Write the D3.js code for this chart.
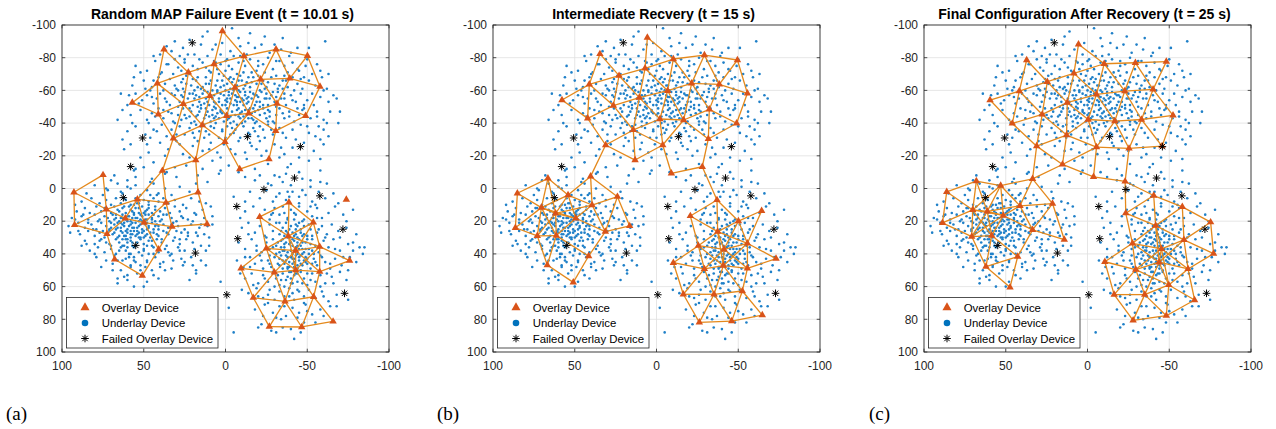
<!DOCTYPE html>
<html>
<head>
<meta charset="utf-8">
<script src="https://cdn.jsdelivr.net/npm/d3@7"></script>
<style>
  body { margin: 0; background: #fff; }
  svg { display: block; font-family: "Liberation Sans", Arial, Helvetica, sans-serif; }
</style>
</head>
<body>
<svg id="fig" width="1276" height="429"></svg>
<script>
// ---- chart text ----
const titles = [
  "Random MAP Failure Event (t = 10.01 s)",
  "Intermediate Recvery (t = 15 s)",
  "Final Configuration After Recovery (t = 25 s)"
];
const panelTags = ["(a)", "(b)", "(c)"];
const xTicks = [100, 50, 0, -50, -100];
const yTicks = [-100, -80, -60, -40, -20, 0, 20, 40, 60, 80, 100];
const legendLabels = ["Overlay Device", "Underlay Device", "Failed Overlay Device"];

// radio range used to link overlay devices
const linkRange = 23.5;

// ---- failed overlay devices (same in every snapshot) ----
const failedDevices = [
  [20.3,-89.1],[50.7,-30.9],[58,-13.4],[-13.4,-31.7],[-45.8,-25.6],
  [62.5,5.6],[54.9,34.8],[18.4,39.5],
  [-42.2,-6.4],[-23.5,0.6],[-6.9,11],[-57.7,4.5],[-71.8,24.9],[-7.5,30.7],[-0.8,65],[-72.8,64.1]
];

// ---- overlay devices, t = 10.01 s ----
const overlayFailure = [
  [1.9,-96.3],[37.6,-85.1],[-11.3,-81.0],[-30.9,-85.1],[-50.1,-81.2],[7.0,-76.1],[22.7,-71.0],
  [41.7,-64.3],[-21.5,-66.8],[-39.3,-67.4],[-57.8,-62.3],[-5.8,-61.7],[57.0,-52.5],[9.5,-56.6],
  [25.8,-51.7],[-31.5,-51.9],[41.1,-45.4],[-0.7,-44.5],[-14.2,-46.0],[-49.0,-44.5],[14.2,-38.8],
  [-30.7,-35.2],[31.9,-30.7],[0.3,-28.6],[18.2,-17.4],[-26.6,-18.0],[-8.7,-11.9],[38.6,-10.9],
  [74.9,-8.3],[92.7,2.3],[16.8,2.3],[53.9,6.6],[36.4,8.7],[72.9,12.7],[92.3,22.3],[61.3,18.3],
  [49.8,20.9],[11.3,21.7],[32.7,23.3],[72.5,27.8],[40.9,37.2],[67.8,43.3],[50.9,53.3],
  [-38.8,8.5],[-73.9,6.8],[-20.9,17.4],[-53.7,20.7],[-38.4,29.1],[-25.0,36.6],[-42.9,38.0],
  [-57.6,35.6],[-9.5,48.8],[-75.9,44.1],[-29.9,51.3],[-42.9,49.9],[-57.6,50.9],[-17.0,66.8],
  [-36.4,69.0],[-53.9,66.2],[-26.8,84.5],[-46.6,84.7],[-65.8,81.3]
];

// ---- overlay devices, t = 15 s ----
const overlayIntermediate = [
  [5.6,-92.3],[34.6,-82.3],[-10.3,-79.2],[-29.3,-81.6],[-49.5,-78.6],[7.0,-73.5],[22.9,-69.0],
  [41.1,-63.7],[-21.5,-64.3],[-38.4,-63.7],[-55.6,-58.2],[-6.8,-59.8],[57.8,-54.1],[10.5,-55.6],
  [26.4,-50.7],[-32.3,-48.4],[42.1,-42.9],[-2.1,-42.5],[-16.6,-41.9],[-49.0,-39.9],[14.2,-35.8],
  [-31.7,-30.3],[31.1,-26.6],[-3.8,-26.6],[13.1,-17.4],[-28.0,-13.3],[-9.1,-9.3],[40.3,-7.4],
  [66.4,-6.2],[85.1,2.9],[54.1,4.0],[23.9,5.0],[70.4,11.7],[39.4,10.1],[61.7,15.2],[86.3,24.0],
  [16.4,22.9],[72.9,29.0],[61.3,28.8],[31.3,26.4],[49.4,18.2],[41.5,41.3],[66.8,46.8],[50.9,57.4],
  [-37.0,7.0],[-20.7,16.8],[-64.3,13.6],[-50.1,19.9],[-37.4,26.4],[-25.6,35.0],[-41.3,37.2],
  [-55.6,33.5],[-73.1,42.9],[-10.3,45.4],[-29.3,49.2],[-40.9,47.2],[-55.6,48.8],[-16.4,64.7],
  [-35.2,64.7],[-52.5,62.7],[-64.7,77.4],[-26.2,81.9],[-46.0,81.1]
];

// ---- overlay devices, t = 25 s ----
const overlayFinal = [
  [5.5,-88.2],[37.2,-78.6],[-10.2,-76.3],[-29.3,-76.9],[-48.2,-77.6],[8.3,-70.4],[24.6,-65.3],
  [41.7,-59.6],[-5.5,-57.6],[-22.8,-59.6],[-40.1,-60.6],[59.6,-54.1],[12.4,-52.5],[27.7,-45.3],
  [-0.4,-42.2],[-16.7,-41.2],[-33.0,-42.2],[-52.3,-44.7],[46.0,-39.8],[12.8,-32.7],[31.1,-25.9],
  [-5.5,-25.3],[-25.4,-24.5],[-45.6,-25.9],[15.3,-14.7],[-3.7,-7.1],[-23.0,-4.3],[33.6,-5.9],
  [53.1,-1.8],[68.0,-4.5],[86.1,2.0],[70.2,13.1],[88.7,21.0],[61.3,14.0],[41.3,10.6],[21.4,9.2],
  [51.5,16.5],[70.8,29.4],[58.6,28.8],[33.6,25.3],[14.2,31.2],[42.7,41.6],[62.1,47.8],[47.4,60.4],
  [-40.5,4.3],[-58.0,11.2],[-23.4,15.1],[-41.7,22.7],[-75.3,20.6],[-59.0,31.4],[-27.5,33.5],
  [-45.2,36.9],[-77.1,39.8],[-10.6,44.8],[-43.8,45.1],[-61.5,49.2],[-29.5,49.6],[-49.7,59.0],
  [-16.3,64.9],[-35.0,64.9],[-65.5,68.2],[-27.9,80.6],[-48.2,77.8]
];

// ---- underlay devices (x, y pairs) ----
const underlayNorth = [
  -4,-98, 14,-93, -61,-90, -8,-92, 22,-91, -15,-95,
  36,-87, 33,-84, 26,-86, 15,-88, 8,-85, 2,-89, -3,-84, -9,-87, -18,-86, -22,-88, -27,-83, -34,-85, -40,-83, -44,-86, -13,-82, 19,-82, 28,-81, 11,-81, -5,-81, 40,-82, -51,-86, -30,-88,
  43,-78, 36,-76, 31,-79, 25,-77, 20,-75, 16,-79, 12,-74, 7,-78, 3,-76, -1,-79, -4,-73, -8,-77, -12,-75, -15,-79, -19,-72, -23,-76, -26,-80, -29,-73, -33,-78, -36,-75, -41,-77, -45,-72, -49,-75, -53,-70, 48,-72, 39,-71, 27,-72, 22,-70, 9,-71, 0,-72, -7,-70, -16,-71, -24,-71, -38,-71, 29,-74, 14,-77, -2,-75, -11,-78, -20,-78, 5,-73, 55,-75, -58,-72,
  50,-66, 45,-62, 41,-68, 37,-64, 34,-67, 30,-61, 27,-65, 24,-69, 21,-63, 18,-66, 15,-61, 12,-68, 10,-64, 8,-60, 5,-66, 3,-62, 1,-69, -1,-64, -3,-61, -5,-67, -7,-63, -9,-69, -11,-61, -13,-65, -15,-62, -17,-68, -19,-64, -21,-60, -23,-66, -25,-62, -28,-68, -30,-64, -32,-61, -35,-66, -38,-62, -41,-68, -44,-64, -47,-61, -51,-66, -55,-63, -59,-68, 57,-63, 32,-70, 17,-62, 6,-63, -4,-65, -10,-66, -16,-65, -26,-65, -31,-69, 13,-60, -2,-67, -8,-60, -20,-69, -36,-69, 26,-61, 44,-66, -46,-67, -62,-61, 20,-67, -12,-63,
  55,-58, 51,-54, 48,-57, 44,-52, 40,-58, 37,-55, 34,-51, 31,-57, 28,-53, 25,-59, 23,-55, 20,-51, 18,-57, 16,-53, 14,-58, 12,-55, 10,-51, 9,-57, 7,-53, 5,-59, 4,-55, 2,-51, 1,-57, -1,-53, -2,-59, -3,-55, -5,-51, -6,-57, -7,-53, -9,-59, -10,-55, -11,-51, -12,-57, -14,-53, -15,-59, -16,-55, -18,-51, -19,-57, -21,-53, -22,-59, -24,-55, -26,-51, -28,-57, -30,-53, -32,-59, -34,-55, -37,-51, -40,-57, -43,-53, -46,-58, -50,-54, -54,-51, -58,-56, -63,-53, 60,-51, 46,-60, 38,-60, 29,-60, 22,-58, 17,-50, 11,-59, 6,-52, 3,-58, 0,-54, -4,-58, -8,-56, -13,-55, -17,-58, -20,-56, -23,-51, -27,-55, -31,-56, -36,-58, -3,-52, -9,-53, 8,-55, 13,-52, 19,-55, -25,-58, -41,-54, -48,-51, 33,-58, 0,-60, -6,-54, -14,-56, 26,-56, 42,-55,
  58,-45, 52,-48, 48,-42, 45,-46, 41,-49, 38,-43, 35,-47, 32,-41, 29,-45, 26,-49, 24,-43, 21,-47, 19,-41, 17,-45, 15,-49, 13,-43, 11,-47, 9,-41, 8,-45, 6,-49, 4,-43, 3,-47, 1,-41, 0,-45, -1,-49, -2,-43, -4,-47, -5,-41, -6,-45, -8,-49, -9,-43, -10,-47, -12,-41, -13,-45, -15,-49, -16,-43, -18,-47, -19,-41, -21,-45, -23,-49, -25,-43, -27,-47, -29,-41, -31,-45, -33,-49, -36,-43, -39,-47, -42,-41, -45,-45, -48,-49, -52,-43, -56,-47, -60,-42, -69,-40, 2,-46, -3,-44, -7,-48, -11,-44, -14,-48, -17,-42, -20,-48, -24,-46, 7,-43, 12,-49, 16,-47, 22,-44, -35,-46, -1,-42, 5,-46, -26,-41, 27,-42, 43,-44, -44,-49, 10,-44,
  55,-38, 49,-33, 44,-36, 39,-39, 36,-32, 33,-36, 28,-38, 25,-33, 22,-37, 19,-31, 16,-35, 13,-39, 10,-33, 7,-37, 4,-31, 2,-35, -1,-38, -3,-33, -6,-36, -9,-31, -11,-38, -14,-34, -17,-37, -20,-32, -23,-36, -26,-39, -29,-33, -33,-37, -37,-31, -41,-36, -46,-39, -51,-34, -57,-38, -63,-32, 12,-35, 0,-31, -7,-39, -18,-35, -24,-31, 30,-33, 46,-31, 18,-39, -35,-34, -60,-36,
  58,-27, 47,-22, 40,-28, 35,-24, 30,-29, 26,-21, 20,-26, 14,-23, 9,-28, 5,-22, 1,-27, -3,-24, -8,-29, -12,-22, -16,-26, -21,-29, -25,-23, -30,-27, -36,-21, -41,-25, -48,-28, -54,-23, -60,-27, 17,-29, -6,-21, -19,-24, -58,-30, 62,-24,
  44,-16, 31,-13, 22,-19, 8,-17, -2,-14, -13,-18, -18,-12, -26,-15, -33,-19, -38,-13, -51,-17, -58,-11, 3,-11, 14,-12, 52,-19,
  -12,-7, 11,-4, -30,-8,
  3,-48, -7,-51, 11,-53, -16,-46, 6,-40, -2,-57, 14,-62, -19,-53, 22,-49, -27,-44, 9,-66, -12,-59, 18,-44, -4,-37, 1,-63, -24,-61, 27,-57, -9,-46, 15,-38, -31,-50, 4,-70, -14,-68, 33,-46, -21,-38, 7,-57, -6,-63, 19,-60, -36,-55, 0,-51, -10,-40, 24,-64, -17,-49, 12,-45, -29,-59, 36,-53, -3,-68, 8,-48, -22,-64, 2,-36, -13,-52, 29,-50, -39,-44, 16,-56, -8,-44, -25,-55, 5,-60, 21,-40, -33,-63, 10,-72, -18,-40, 38,-48, -1,-46, -42,-60, 26,-67, -11,-71, 13,-31, -5,-34, 31,-63, -15,-33, 45,-56, -28,-36, 6,-77, -37,-66, 20,-34, -47,-48, 49,-61, -53,-58, 40,-70, -20,-75, 17,-73, -44,-73, 35,-76, -9,-81, 23,-82, -31,-78, 3,-82, -48,-68, 53,-52, -56,-44, 47,-40, -50,-38, 42,-35, -43,-30, 28,-27, -34,-25, 10,-24, -15,-28, 3,-19, -22,-20, 37,-20, -45,-19, 24,-14, -8,-10, 17,-8, -40,-15, 48,-27, -55,-32, 57,-40, -64,-47, 59,-57, -60,-60, 52,-71, -50,-79, 44,-81, 31,-90, -35,-92, 11,-96, -24,-93, 63,-48, -66,-57, 60,-35, -62,-40, 6,-88, -14,-89, 0,-78, 25,-79, -39,-81, -56,-76,
  -1,-55, 6,-44, -12,-48, 15,-51, -5,-60, 9,-38, -18,-57, 2,-66, -26,-48, 20,-58, -8,-66, 12,-64, -30,-40, 25,-45, -3,-40, -21,-50, 7,-50, -14,-43, 17,-68, -35,-61, 31,-40, -11,-54, 4,-53, -7,-56,
  -63,-70, -68,-55, -70,-47, 66,-42, 64,-58, 56,-68, -58,-18, 55,-12, -45,-10, 36,-10
];
const underlayWest = [
  68,-8, 56,-11, 45,-6, 37,-9, 60,-5, 30,-7, 50,-13,
  80,-2, 72,1, 66,-3, 63,3, 58,0, 55,-2, 52,4, 48,1, 44,-3, 41,3, 37,0, 33,4, 28,-1, 22,2, 18,-3, 75,4, 85,3, 60,-1, 46,4,
  88,8, 82,6, 77,9, 73,7, 70,10, 67,6, 64,9, 61,7, 58,10, 55,6, 53,9, 50,7, 47,10, 44,6, 41,8, 38,6, 35,9, 31,7, 26,10, 21,6, 16,8, 12,9, 92,10,
  91,14, 86,12, 83,15, 79,11, 76,14, 73,12, 70,15, 68,11, 65,14, 63,12, 61,15, 59,11, 57,14, 55,12, 53,15, 51,11, 49,14, 47,12, 45,15, 43,11, 40,14, 37,12, 34,15, 31,11, 28,14, 24,12, 19,15, 14,13, 9,11, 66,13, 56,10, 48,13,
  94,18, 88,17, 84,19, 80,16, 77,19, 74,17, 71,20, 69,16, 67,18, 65,20, 63,16, 61,19, 60,17, 58,20, 56,16, 54,18, 53,20, 51,17, 49,19, 47,16, 45,18, 43,20, 41,17, 39,19, 36,16, 33,18, 30,20, 27,17, 23,19, 18,16, 13,18, 8,17, 64,18, 57,18, 50,15, 44,16, 62,21, 52,19,
  96,23, 90,21, 86,24, 82,22, 79,25, 76,21, 73,23, 71,25, 68,22, 66,24, 64,21, 62,23, 60,25, 58,22, 57,24, 55,21, 53,23, 51,25, 49,22, 47,24, 45,21, 43,23, 41,25, 38,22, 35,24, 32,21, 29,23, 25,25, 21,22, 16,24, 11,23, 59,23, 54,24, 48,21, 42,22, 67,25, 70,21,
  89,28, 84,26, 80,29, 77,27, 74,30, 71,26, 69,28, 66,30, 64,26, 62,29, 60,27, 58,30, 56,26, 54,28, 52,30, 50,26, 48,28, 46,30, 44,27, 41,29, 38,26, 35,28, 31,30, 27,27, 23,29, 18,27, 13,28, 57,28, 63,27, 49,29, 65,29, 53,27,
  86,32, 80,34, 76,31, 73,33, 70,35, 67,31, 65,33, 62,35, 60,31, 57,33, 55,35, 52,31, 50,34, 47,32, 45,35, 42,31, 39,33, 36,35, 32,32, 28,34, 24,31, 20,33, 15,35, 58,32, 63,31, 48,35,
  83,38, 78,36, 74,39, 70,37, 67,40, 64,36, 61,38, 58,40, 56,36, 53,39, 50,37, 47,40, 44,36, 41,39, 37,37, 33,40, 29,36, 25,38, 19,37, 12,38, 60,36,
  79,42, 73,44, 68,41, 63,44, 59,42, 55,45, 51,41, 48,44, 43,42, 38,45, 34,41, 27,43, 21,42, 15,44, 61,43, 56,42,
  76,48, 69,46, 64,50, 58,47, 54,52, 49,48, 45,50, 40,46, 33,49, 26,47, 18,50, 60,53, 52,47, 12,47,
  66,58, 56,60, 48,57, 60,56, 41,55, 22,56, 18,52,
  57,21, 52,16, 61,26, 47,23, 55,29, 63,18, 50,30, 58,13, 44,25, 66,21, 53,12, 60,33, 48,19, 62,11, 56,24, 42,28, 68,27, 51,27, 59,17, 45,32, 64,24, 54,33, 49,16, 61,29, 55,18, 46,27, 67,16, 58,26, 52,22, 40,20, 70,24, 57,35, 43,13, 63,35, 50,38, 36,27, 72,18, 54,9, 65,38, 39,31, 75,26, 47,8, 59,40, 33,22, 78,20, 62,6, 44,40, 30,26, 81,25, 56,44, 38,16, 74,12, 48,45, 28,31, 84,21, 66,44, 35,39, 71,34, 42,4, 58,48, 26,18, 87,16, 52,50, 23,27, 77,32, 64,2, 40,48, 20,20, 90,26, 69,50, 32,44, 73,0, 46,-4, 17,29, 85,34, 62,54, 55,-7, 28,38, 92,19, 37,50, 70,-5, 15,22, 80,40, 50,60, 25,45, 95,27, 44,53, 10,30, 88,35, 66,55,
  60,20, 54,26, 48,25, 58,28, 63,22, 51,20, 56,15, 45,19, 61,31, 53,30, 68,19, 41,23
];
const underlayEast = [
  -18,-5, -26,-3, -33,-7, -40,-2, -47,-6, -52,-1, -58,-4, -21,-8, -62,-3, -37,-9,
  -15,2, -21,6, -25,1, -29,8, -33,3, -37,7, -41,2, -45,9, -49,4, -53,8, -57,2, -61,6, -66,3, -12,8, -31,5, -47,1, -39,5, -69,9,
  -12,14, -17,11, -21,17, -24,13, -27,19, -30,12, -33,16, -35,11, -38,18, -40,13, -43,16, -45,11, -48,19, -50,14, -53,17, -56,12, -59,18, -63,15, -67,11, -72,16, -78,13, -9,18, -36,15, -42,19, -29,15, -52,11,
  -10,24, -14,21, -18,27, -21,23, -24,29, -27,22, -29,26, -31,21, -33,28, -35,24, -37,21, -38,27, -40,23, -42,29, -43,25, -45,21, -46,27, -48,23, -50,29, -52,25, -54,21, -56,27, -59,23, -62,28, -65,22, -69,26, -74,24, -80,28, -39,25, -44,23, -47,29, -34,26, -41,27, -36,29, -51,22, -57,25,
  -8,33, -12,37, -16,31, -19,35, -22,39, -25,33, -27,37, -29,31, -31,35, -33,39, -34,32, -36,36, -38,30, -39,34, -40,38, -42,32, -43,36, -44,40, -45,31, -46,35, -48,39, -49,33, -51,37, -53,31, -55,35, -57,39, -60,32, -63,36, -66,31, -70,38, -75,34, -82,36, -41,35, -37,33, -47,37, -35,38, -44,33, -50,31, -32,33, -38,39, -53,38, -41,31,
  -7,44, -11,48, -15,42, -18,46, -21,41, -23,49, -26,44, -28,48, -30,42, -32,46, -34,41, -35,49, -37,44, -38,48, -40,42, -41,46, -43,41, -44,49, -45,44, -47,47, -49,42, -50,46, -52,49, -54,43, -56,47, -58,41, -61,45, -64,49, -67,43, -71,47, -76,42, -84,40, -39,45, -42,43, -46,41, -36,46, -48,44, -33,43, -27,41, -53,46, -42,48,
  -12,55, -16,52, -20,58, -23,53, -26,57, -29,51, -31,55, -33,59, -35,52, -37,56, -39,51, -40,58, -42,53, -44,57, -46,51, -48,55, -50,59, -53,52, -55,57, -58,53, -61,58, -65,54, -70,51, -74,56, -38,54, -44,52, -34,56, -47,58,
  -14,64, -19,61, -23,67, -27,62, -30,68, -33,63, -36,66, -39,61, -42,68, -45,63, -48,66, -51,62, -55,67, -59,63, -63,69, -68,65, -26,65, -41,64, -75,68,
  -18,74, -24,71, -29,76, -33,72, -37,78, -41,73, -45,76, -49,71, -53,77, -58,74, -64,72, -31,79, -44,79,
  -22,83, -35,85, -46,88, -55,82, -42,92, -28,87, -5,88,
  -41,40, -45,37, -38,42, -47,33, -43,28, -36,38, -49,45, -40,51, -44,35, -33,47, -51,40, -39,30, -46,50, -37,26, -42,45, -48,28, -34,36, -52,34, -40,55, -45,42, -31,40, -55,45, -43,22, -38,49, -49,37, -35,31, -46,25, -41,58, -53,29, -32,53, -44,47, -57,36, -38,19, -50,52, -29,36, -47,20, -36,60, -54,40, -42,15, -27,46, -59,42, -39,66, -52,56, -25,30, -44,62, -61,30, -33,21, -48,70, -22,44, -64,46, -36,72, -56,18, -19,38, -67,37, -30,60, -58,60, -24,55, -45,5, -15,48, -70,30, -28,16, -62,52, -34,80, -50,75, -17,59, -72,42, -26,70, -60,66, -40,86, -55,10, -12,42, -75,50, -20,66, -66,58, -31,88, -48,82, -9,52, -78,38, -23,78, -68,72, -38,2, -52,-5, -14,28, -74,20, -28,-2, -60,78, -10,62, -80,45, -20,85, -35,-4,
  -42,38, -40,33, -46,46, -37,41, -44,30, -39,48, -50,43, -35,44, -43,52, -47,40, -36,34, -41,43
];
const underlayScattered = [
  3,57, -2,73, 8,22, 20,47, 10,35, -5,5, 4,-9, -78,33, -85,36, 63,-30
];

// ---------------------------------------------------------------
const pairs = flat => d3.range(0, flat.length, 2).map(i => [flat[i], flat[i + 1]]);
const underlay = [underlayNorth, underlayWest, underlayEast, underlayScattered].flatMap(pairs);
const snapshots = [overlayFailure, overlayIntermediate, overlayFinal];

// overlay links: every pair of devices within radio range
function rangeLinks(nodes) {
  const out = [];
  for (let i = 0; i < nodes.length; i++)
    for (let j = i + 1; j < nodes.length; j++) {
      const dx = nodes[i][0] - nodes[j][0], dy = nodes[i][1] - nodes[j][1];
      if (Math.hypot(dx, dy) <= linkRange) out.push([nodes[i], nodes[j]]);
    }
  return out;
}

const svg = d3.select("#fig");
const size = 327;
const panelLeft = [62, 493, 924];
const panelTop = 25;

const x = d3.scaleLinear().domain([100, -100]).range([0, size]);
const y = d3.scaleLinear().domain([-100, 100]).range([0, size]);

const C = {
  axis: "#262626", grid: "#dfdfdf", under: "#1f80c8",
  link: "#E4891C", over: "#D95319", fail: "#000"
};

const asterisk = r => {
  const d = r * Math.SQRT1_2;
  return `M${-r},0H${r}M0,${-r}V${r}M${-d},${-d}L${d},${d}M${-d},${d}L${d},${-d}`;
};
const tri = d3.symbol().type(d3.symbolTriangle).size(24);
const triLegend = d3.symbol().type(d3.symbolTriangle).size(36);

snapshots.forEach((overlay, k) => {
  const g = svg.append("g").attr("transform", `translate(${panelLeft[k]},${panelTop})`);

  // grid
  g.append("g").selectAll("line").data(xTicks.slice(1, -1)).join("line")
    .attr("x1", d => x(d)).attr("x2", d => x(d)).attr("y1", 0).attr("y2", size)
    .attr("stroke", C.grid).attr("stroke-width", 0.8);
  g.append("g").selectAll("line").data(yTicks.slice(1, -1)).join("line")
    .attr("y1", d => y(d)).attr("y2", d => y(d)).attr("x1", 0).attr("x2", size)
    .attr("stroke", C.grid).attr("stroke-width", 0.8);

  // underlay devices
  g.append("g").selectAll("circle").data(underlay).join("circle")
    .attr("cx", d => x(d[0])).attr("cy", d => y(d[1])).attr("r", 1.3)
    .attr("fill", C.under);

  // overlay links
  g.append("g").selectAll("line").data(rangeLinks(overlay)).join("line")
    .attr("x1", d => x(d[0][0])).attr("y1", d => y(d[0][1]))
    .attr("x2", d => x(d[1][0])).attr("y2", d => y(d[1][1]))
    .attr("stroke", C.link).attr("stroke-width", 1.3);

  // overlay devices
  g.append("g").selectAll("path").data(overlay).join("path")
    .attr("transform", d => `translate(${x(d[0])},${y(d[1])})`)
    .attr("d", tri).attr("fill", C.over);

  // failed devices
  g.append("g").selectAll("path").data(failedDevices).join("path")
    .attr("transform", d => `translate(${x(d[0])},${y(d[1])})`)
    .attr("d", asterisk(3.8)).attr("stroke", C.fail).attr("stroke-width", 1).attr("fill", "none");

  // frame, ticks and tick labels
  g.append("rect").attr("width", size).attr("height", size)
    .attr("fill", "none").attr("stroke", C.axis).attr("stroke-width", 0.9);
  const tl = 3.3;
  xTicks.forEach(t => {
    g.append("line").attr("x1", x(t)).attr("x2", x(t)).attr("y1", size).attr("y2", size - tl).attr("stroke", C.axis).attr("stroke-width", 0.8);
    g.append("line").attr("x1", x(t)).attr("x2", x(t)).attr("y1", 0).attr("y2", tl).attr("stroke", C.axis).attr("stroke-width", 0.8);
  });
  yTicks.forEach(t => {
    g.append("line").attr("y1", y(t)).attr("y2", y(t)).attr("x1", 0).attr("x2", tl).attr("stroke", C.axis).attr("stroke-width", 0.8);
    g.append("line").attr("y1", y(t)).attr("y2", y(t)).attr("x1", size).attr("x2", size - tl).attr("stroke", C.axis).attr("stroke-width", 0.8);
  });
  g.append("g").selectAll("text").data(xTicks).join("text")
    .attr("x", d => x(d)).attr("y", size + 17.5).attr("text-anchor", "middle")
    .attr("font-size", 12).attr("fill", C.axis).text(d => String(d));
  g.append("g").selectAll("text").data(yTicks).join("text")
    .attr("x", -6).attr("y", d => y(d) + 4.2).attr("text-anchor", "end")
    .attr("font-size", 12).attr("fill", C.axis).text(d => String(d));

  // title
  g.append("text").attr("x", 160.5).attr("y", -6.5).attr("text-anchor", "middle")
    .attr("font-size", 14).attr("font-weight", "bold").attr("fill", "#000").text(titles[k]);

  // legend
  const lg = g.append("g").attr("transform", `translate(4.5,272.5)`);
  lg.append("rect").attr("width", 151.5).attr("height", 50.5)
    .attr("fill", "#fff").attr("stroke", C.axis).attr("stroke-width", 0.8);
  const rows = [10, 25.5, 41];
  lg.append("path").attr("transform", `translate(18.5,${rows[0]})`).attr("d", triLegend).attr("fill", C.over);
  lg.append("circle").attr("cx", 18.5).attr("cy", rows[1]).attr("r", 3.3).attr("fill", "#0072BD");
  lg.append("path").attr("transform", `translate(18.5,${rows[2]})`).attr("d", asterisk(3.8))
    .attr("stroke", C.fail).attr("stroke-width", 1).attr("fill", "none");
  lg.selectAll("text.lab").data(legendLabels).join("text").attr("class", "lab")
    .attr("x", 35.2).attr("y", (d, i) => rows[i] + 4)
    .attr("font-size", 11.4).attr("fill", "#000").text(d => d);

  // panel tag
  svg.append("text").attr("x", [6, 437, 869][k]).attr("y", 419.5)
    .attr("font-family", "'Liberation Serif', 'Times New Roman', serif").attr("font-size", 19)
    .attr("fill", "#000").text(panelTags[k]);
});
</script>
</body>
</html>
